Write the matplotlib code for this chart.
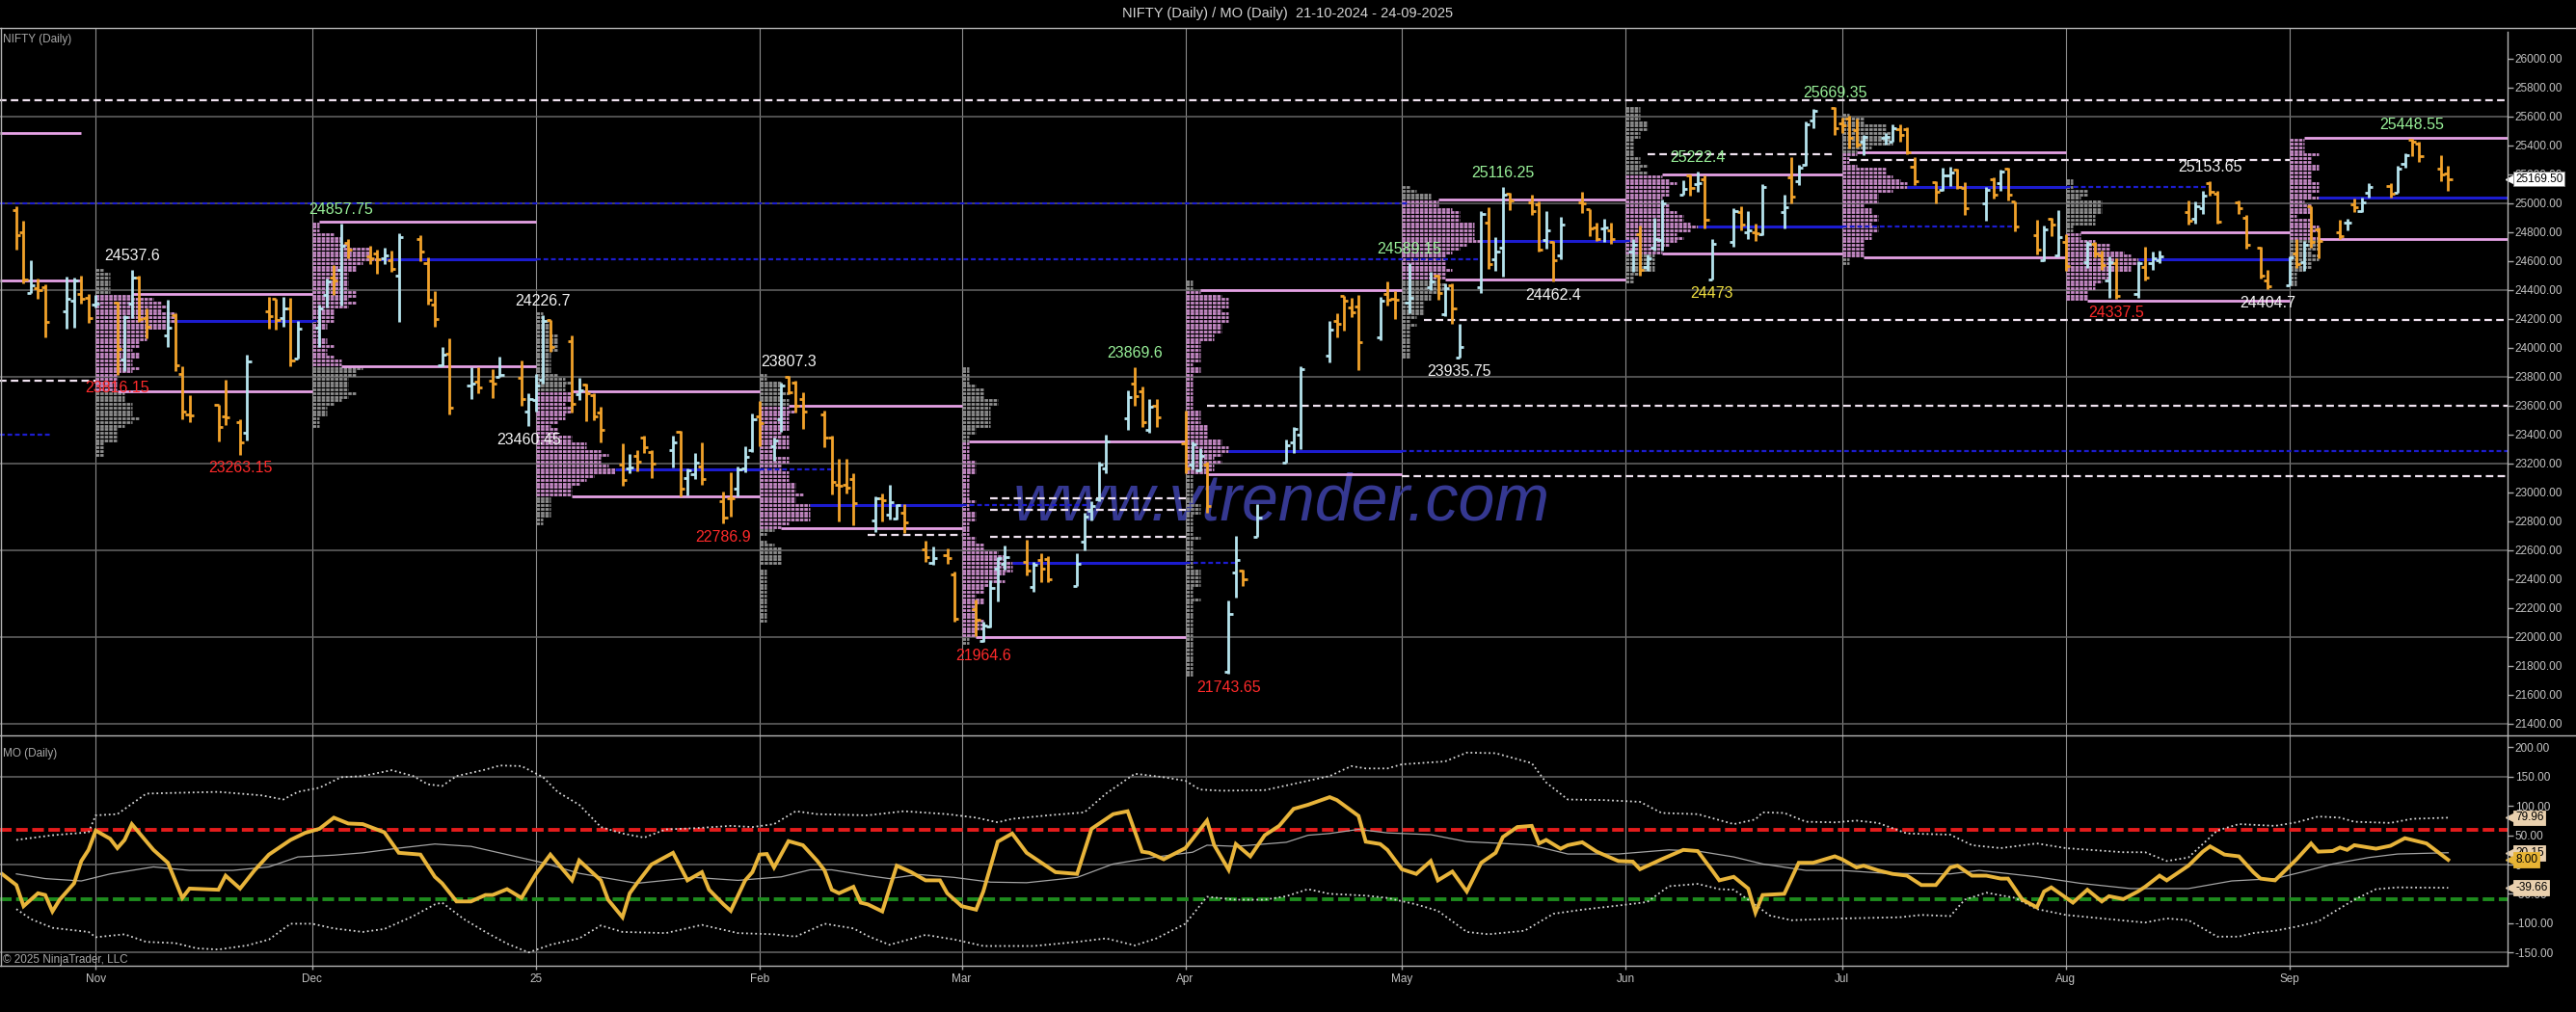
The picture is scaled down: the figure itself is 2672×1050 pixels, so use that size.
import numpy as np
import pandas as pd
import matplotlib
matplotlib.use("Agg")
import matplotlib.pyplot as plt
import matplotlib.dates as mdates
from matplotlib.lines import Line2D
from matplotlib.collections import LineCollection

plt.rcParams["font.family"] = ["Liberation Sans", "DejaVu Sans"]

# ---------------- data: NIFTY daily bars ----------------
bar_dates = [
    "2024-10-21", "2024-10-22", "2024-10-23", "2024-10-24", "2024-10-25", "2024-10-28", "2024-10-29", "2024-10-30", "2024-10-31",
    "2024-11-01", "2024-11-04", "2024-11-05", "2024-11-06", "2024-11-07", "2024-11-08", "2024-11-11", "2024-11-12", "2024-11-13",
    "2024-11-14", "2024-11-18", "2024-11-19", "2024-11-21", "2024-11-22", "2024-11-25", "2024-11-26", "2024-11-27", "2024-11-28", "2024-11-29",
    "2024-12-02", "2024-12-03", "2024-12-04", "2024-12-05", "2024-12-06", "2024-12-09", "2024-12-10", "2024-12-11", "2024-12-12",
    "2024-12-13", "2024-12-16", "2024-12-17", "2024-12-18", "2024-12-19", "2024-12-20", "2024-12-23", "2024-12-24", "2024-12-26",
    "2024-12-27", "2024-12-30", "2024-12-31",
    "2025-01-01", "2025-01-02", "2025-01-03", "2025-01-06", "2025-01-07", "2025-01-08", "2025-01-09", "2025-01-10", "2025-01-13",
    "2025-01-14", "2025-01-15", "2025-01-16", "2025-01-17", "2025-01-20", "2025-01-21", "2025-01-22", "2025-01-23", "2025-01-24",
    "2025-01-27", "2025-01-28", "2025-01-29", "2025-01-30", "2025-01-31",
    "2025-02-01", "2025-02-03", "2025-02-04", "2025-02-05", "2025-02-06", "2025-02-07", "2025-02-10", "2025-02-11", "2025-02-12",
    "2025-02-13", "2025-02-14", "2025-02-17", "2025-02-18", "2025-02-19", "2025-02-20", "2025-02-21", "2025-02-24", "2025-02-25",
    "2025-02-27", "2025-02-28",
    "2025-03-03", "2025-03-04", "2025-03-05", "2025-03-06", "2025-03-07", "2025-03-10", "2025-03-11", "2025-03-12", "2025-03-13",
    "2025-03-17", "2025-03-18", "2025-03-19", "2025-03-20", "2025-03-21", "2025-03-24", "2025-03-25", "2025-03-26", "2025-03-27", "2025-03-28",
    "2025-04-01", "2025-04-02", "2025-04-03", "2025-04-04", "2025-04-07", "2025-04-08", "2025-04-09", "2025-04-11", "2025-04-15",
    "2025-04-16", "2025-04-17", "2025-04-21", "2025-04-22", "2025-04-23", "2025-04-24", "2025-04-25", "2025-04-28", "2025-04-29", "2025-04-30",
    "2025-05-02", "2025-05-05", "2025-05-06", "2025-05-07", "2025-05-08", "2025-05-09", "2025-05-12", "2025-05-13", "2025-05-14",
    "2025-05-15", "2025-05-16", "2025-05-19", "2025-05-20", "2025-05-21", "2025-05-22", "2025-05-23", "2025-05-26", "2025-05-27",
    "2025-05-28", "2025-05-29", "2025-05-30",
    "2025-06-02", "2025-06-03", "2025-06-04", "2025-06-05", "2025-06-06", "2025-06-09", "2025-06-10", "2025-06-11", "2025-06-12",
    "2025-06-13", "2025-06-16", "2025-06-17", "2025-06-18", "2025-06-19", "2025-06-20", "2025-06-23", "2025-06-24", "2025-06-25",
    "2025-06-26", "2025-06-27", "2025-06-30",
    "2025-07-01", "2025-07-02", "2025-07-03", "2025-07-04", "2025-07-07", "2025-07-08", "2025-07-09", "2025-07-10", "2025-07-11",
    "2025-07-14", "2025-07-15", "2025-07-16", "2025-07-17", "2025-07-18", "2025-07-21", "2025-07-22", "2025-07-23", "2025-07-24",
    "2025-07-25", "2025-07-28", "2025-07-29", "2025-07-30", "2025-07-31",
    "2025-08-01", "2025-08-04", "2025-08-05", "2025-08-06", "2025-08-07", "2025-08-08", "2025-08-11", "2025-08-12", "2025-08-13",
    "2025-08-14", "2025-08-18", "2025-08-19", "2025-08-20", "2025-08-21", "2025-08-22", "2025-08-25", "2025-08-26", "2025-08-28", "2025-08-29",
    "2025-09-01", "2025-09-02", "2025-09-03", "2025-09-04", "2025-09-05", "2025-09-08", "2025-09-09", "2025-09-10", "2025-09-11",
    "2025-09-12", "2025-09-15", "2025-09-16", "2025-09-17", "2025-09-18", "2025-09-19", "2025-09-22", "2025-09-23",
]

opens = [
    24956, 24798, 24378, 24412, 24418, 24251, 24329, 24371, 24349,
    24302, 24316, 23917, 24308, 24489, 24207, 24087, 24225, 23822, 23542, 23605, 23529, 23488, 23411, 24253, 24340, 24204, 24274, 23927,
    24140, 24367, 24489, 24539, 24729, 24633, 24652, 24620, 24604, 24498, 24753, 24584, 24297, 23878, 23960, 23738, 23769, 23775, 23801, 23796, 23560,
    23637, 23783, 24196, 24045, 23679, 23746, 23674, 23551, 23195, 23165, 23250, 23377, 23277, 23290, 23421, 23099, 23128, 23183, 22940, 22961, 23026, 23169, 23296,
    23528, 23319, 23509, 23801, 23761, 23649, 23543, 23383, 23050, 23055, 23096, 22809, 22963, 22847, 22821, 22857, 22609, 22516, 22568, 22433,
    22194, 21974, 22073, 22476, 22508, 22522, 22345, 22536, 22541, 22353, 22662, 22874, 22951, 23168, 23515, 23751, 23700, 23433, 23601,
    23341, 23192, 23150, 23190, 21758, 22446, 22460, 22695, 23208, 23345, 23401, 23949, 24186, 24357, 24277, 24289, 24070, 24370, 24343,
    24311, 24419, 24500, 24234, 24431, 23936, 24420, 24864, 24614, 24694, 25064, 25005, 24996, 24745, 24733, 24639, 25005, 24957, 24832, 24826, 24812,
    24669, 24786, 24560, 24691, 24749, 25061, 25196, 25134, 25164, 24473, 24732, 24939, 24803, 24803, 24787, 24939, 25179, 25150, 25268, 25576, 25661,
    25551, 25588, 25505, 25428, 25450, 25427, 25514, 25512, 25255, 25149, 25090, 25196, 25230, 25109, 24999, 25166, 25139, 25243, 25010, 24783, 24609, 24891, 24642,
    24734, 24596, 24720, 24641, 24464, 24586, 24371, 24563, 24586, 24607, 24939, 24892, 24965, 25143, 25064, 25006, 24899, 24695, 24466,
    24432, 24653, 24596, 24980, 24818, 24802, 24864, 24991, 24945, 25074, 25118, 25074, 25276, 25441, 25411, 25238, 25209,
]
highs = [
    24978, 24882, 24604, 24480, 24441, 24493, 24484, 24498, 24372,
    24368, 24317, 24229, 24537.6, 24503, 24276, 24336, 24242, 23873, 23675, 23606, 23780, 23507, 23956, 24351, 24343, 24354, 24345, 24188,
    24301, 24481, 24573, 24857.75, 24751, 24705, 24677, 24691, 24675, 24792, 24781, 24624, 24394, 24004, 24065, 23869, 23867, 23854, 23938, 23916, 23689,
    23822, 24226.7, 24196, 24089, 23795, 23751, 23689, 23596, 23341, 23264, 23293, 23391, 23292, 23391, 23427, 23169, 23270, 23347, 23007, 23138, 23183, 23322, 23546,
    23632, 23381, 23762, 23807.3, 23773, 23694, 23568, 23391, 23235, 23236, 23133, 22974, 22992, 23050, 22923, 22921, 22668, 22625, 22613, 22450,
    22261, 22105, 22394, 22556, 22633, 22676, 22522, 22578, 22558, 22577, 22857, 22940, 23216, 23402, 23708, 23869.6, 23736, 23646, 23649,
    23565, 23350, 23306, 23214, 22254, 22698, 22468, 22923, 23368, 23452, 23872, 24189, 24242, 24359, 24347, 24365, 24355, 24457, 24396,
    24589.15, 24526, 24509, 24449, 24447, 24164, 24944, 24973, 24767, 25116.25, 25070, 25062, 25010, 24946, 24737, 24909, 25079, 24963, 24864, 24893, 24864,
    24754, 24845, 24644, 24900, 25029, 25160, 25199, 25222.4, 25196, 24754, 24967, 24982, 24947, 24863, 25136, 25057, 25317, 25266, 25565, 25654, 25669.35,
    25593, 25608, 25587, 25470, 25489, 25548, 25548, 25525, 25323, 25151, 25245, 25255, 25238, 25144, 25111, 25182, 25233, 25247, 25010, 24889, 24848, 24902, 24956,
    24784, 24737, 24734, 24672, 24635, 24617, 24603, 24703, 24664, 24674, 25022, 25013, 25088, 25153.65, 25085, 25021, 24919, 24702, 24539,
    24636, 24756, 24737, 24980, 24832, 24885, 24891, 25036, 25037, 25139, 25137, 25262, 25346, 25448.55, 25428, 25331, 25262,
]
lows = [
    24679, 24445, 24378, 24341, 24073, 24135, 24140, 24308, 24172,
    24281, 23816.15, 23842, 24204, 24179, 24066, 24004, 23839, 23509, 23484, 23350, 23464, 23263.15, 23359, 24135, 24125, 24145, 23874, 23927,
    24008, 24280, 24366, 24295, 24620, 24580, 24510, 24583, 24527, 24180, 24601, 24303, 24149, 23870, 23537, 23647, 23685, 23653, 23800, 23600, 23460.45,
    23562, 23751, 23976, 23551, 23637, 23496, 23503, 23344, 23047, 23134, 23146, 23272, 23100, 23170, 22976, 22981, 23090, 23050, 22786.9, 22830, 22976, 23139, 23277,
    23319, 23222, 23423, 23680, 23556, 23443, 23316, 22986, 22798, 22993, 22774, 22726, 22801, 22814, 22812, 22720, 22518, 22501, 22508, 22104,
    22004, 21964.6, 22067, 22245, 22464, 22429, 22314, 22378, 22377, 22353, 22599, 22807, 22940, 23132, 23433, 23601, 23451, 23412, 23451,
    23136, 23158, 23145, 22857, 21743.65, 22271, 22353, 22695, 23207, 23273, 23298, 23903, 24073, 24119, 24216, 23847, 24054, 24290, 24198,
    24238, 24400, 24331, 24220, 24164, 23935.75, 24378, 24547, 24535, 24494, 24953, 24917, 24669, 24686, 24462.4, 24614, 24933, 24776, 24737, 24731, 24717,
    24526, 24502, 24530, 24671, 24671, 25057, 25055, 25081, 24825, 24473, 24703, 24813, 24750, 24738, 24783, 24824, 24999, 25125, 25259, 25523, 25473,
    25488, 25378, 25385, 25331, 25407, 25424, 25424, 25340, 25129, 25001, 25088, 25121, 25101, 24918, 24882, 25036, 25085, 25018, 24806, 24646, 24599, 24771, 24636,
    24535, 24554, 24627, 24539, 24344, 24337.5, 24347, 24465, 24539, 24587, 24852, 24858, 24929, 25054, 24859, 24929, 24689, 24481, 24404.7,
    24432, 24554, 24533, 24693, 24621, 24751, 24814, 24941, 24941, 25038, 25038, 25071, 25246, 25329, 25285, 25151, 25084,
]
closes = [
    24781, 24472, 24435, 24399, 24181, 24339, 24467, 24341, 24205,
    24304, 23995, 24213, 24484, 24199, 24148, 24141, 23883, 23559, 23532, 23453, 23518, 23349, 23907, 24221, 24194, 24275, 23914, 24131,
    24276, 24457, 24467, 24708, 24677, 24619, 24610, 24641, 24548, 24768, 24668, 24336, 24198, 23952, 23587, 23753, 23727, 23750, 23813, 23645, 23644,
    23742, 24188, 24004, 23616, 23707, 23688, 23526, 23432, 23086, 23176, 23213, 23311, 23203, 23344, 23025, 23155, 23205, 23092, 22829, 22957, 23163, 23249, 23508,
    23482, 23361, 23739, 23696, 23603, 23560, 23381, 23071, 23045, 23031, 22929, 22959, 22945, 22933, 22913, 22796, 22553, 22547, 22545, 22125,
    22119, 22083, 22337, 22545, 22553, 22460, 22497, 22470, 22397, 22509, 22834, 22907, 23190, 23350, 23658, 23668, 23486, 23592, 23519,
    23165, 23332, 23250, 22904, 22161, 22535, 22399, 22829, 23328, 23437, 23852, 24125, 24167, 24329, 24247, 24039, 24328, 24336, 24334,
    24347, 24461, 24380, 24414, 24273, 24008, 24924, 24578, 24667, 25062, 25019, 24945, 24683, 24813, 24609, 24853, 25001, 24826, 24752, 24833, 24751,
    24716, 24543, 24621, 24751, 25003, 25103, 25104, 25141, 24888, 24719, 24946, 24853, 24812, 24793, 25112, 24972, 25044, 25245, 25549, 25637, 25517,
    25541, 25453, 25405, 25461, 25461, 25523, 25476, 25355, 25150, 25082, 25196, 25212, 25112, 24968, 25091, 25061, 25220, 25062, 24837, 24681, 24821, 24855, 24768,
    24565, 24723, 24650, 24574, 24596, 24363, 24585, 24487, 24619, 24631, 24877, 24980, 25051, 25083, 24870, 24968, 24712, 24501, 24427,
    24625, 24580, 24715, 24734, 24741, 24773, 24869, 24973, 25005, 25114, 25069, 25239, 25330, 25424, 25327, 25202, 25169.5,
]

# swing labels on the price panel
label_dates = ["2024-11-04", "2024-11-06", "2024-11-21", "2024-12-05", "2024-12-31", "2025-01-02", "2025-01-27",
               "2025-02-05", "2025-03-04", "2025-03-25", "2025-04-07", "2025-05-02", "2025-05-09", "2025-05-15",
               "2025-05-22", "2025-06-11", "2025-06-13", "2025-06-30", "2025-08-08", "2025-08-21", "2025-08-29", "2025-09-18"]
label_text = ["23816.15", "24537.6", "23263.15", "24857.75", "23460.45", "24226.7", "22786.9",
              "23807.3", "21964.6", "23869.6", "21743.65", "24589.15", "23935.75", "25116.25",
              "24462.4", "25222.4", "24473", "25669.35", "24337.5", "25153.65", "24404.7", "25448.55"]
label_side = ["L", "H", "L", "H", "L", "H", "L", "H", "L", "H", "L", "H", "L", "H", "L", "H", "L", "H", "L", "H", "L", "H"]
label_kind = ["red", "white", "red", "green", "white", "white", "red", "white", "red", "green", "red", "green",
              "white", "green", "white", "green", "yellow", "green", "red", "white", "white", "green"]

# levels carried in from profiles before the first bar
prior_prices = [25487, 24467, 25000, 23400]
prior_kinds = ["va", "va", "poc", "poc"]
prior_ends = ["2024-10-30", "2024-10-30", "2025-05-02", "2024-10-26"]

# untouched value-area levels (white dashed), start and end dates
naked_prices = [25713, 23773, 24193, 23600, 23115, 22960, 22880, 22693, 22706, 25340, 25302]
naked_starts = ["2024-10-18", "2024-10-18", "2025-05-04", "2025-04-04", "2025-05-01", "2025-03-05", "2025-03-05",
                "2025-03-05", "2025-02-16", "2025-06-04", "2025-07-02"]
naked_ends = ["2025-10-05", "2024-11-01", "2025-10-05", "2025-10-05", "2025-10-05", "2025-04-01", "2025-04-01",
              "2025-04-01", "2025-03-01", "2025-06-30", "2025-09-01"]

month_starts = ["2024-11-01", "2024-12-01", "2025-01-01", "2025-02-01", "2025-03-01", "2025-04-01",
                "2025-05-01", "2025-06-01", "2025-07-01", "2025-08-01", "2025-09-01"]
month_labels = ["Nov", "Dec", "25", "Feb", "Mar", "Apr", "May", "Jun", "Jul", "Aug", "Sep"]

# ---------------- data: MO (Daily) indicator ----------------
mo_dates = [
    "2024-10-19", "2024-10-21", "2024-10-22", "2024-10-24", "2024-10-25", "2024-10-26", "2024-10-27", "2024-10-29", "2024-10-30",
    "2024-10-31", "2024-11-01", "2024-11-03", "2024-11-04", "2024-11-05", "2024-11-06", "2024-11-09", "2024-11-11", "2024-11-13",
    "2024-11-14", "2024-11-18", "2024-11-19", "2024-11-21", "2024-11-23", "2024-11-25", "2024-11-28", "2024-11-30", "2024-12-02",
    "2024-12-04", "2024-12-06", "2024-12-08", "2024-12-11", "2024-12-13", "2024-12-16", "2024-12-18", "2024-12-19", "2024-12-21",
    "2024-12-23", "2024-12-25", "2024-12-26", "2024-12-28", "2024-12-30", "2025-01-01", "2025-01-03", "2025-01-06", "2025-01-07",
    "2025-01-10", "2025-01-11", "2025-01-13", "2025-01-14", "2025-01-15", "2025-01-17", "2025-01-20", "2025-01-22", "2025-01-24",
    "2025-01-25", "2025-01-27", "2025-01-28", "2025-01-30", "2025-01-31", "2025-02-01", "2025-02-02", "2025-02-03", "2025-02-05",
    "2025-02-07", "2025-02-09", "2025-02-10", "2025-02-11", "2025-02-12", "2025-02-14", "2025-02-15", "2025-02-16", "2025-02-18",
    "2025-02-20", "2025-02-22", "2025-02-24", "2025-02-26", "2025-02-27", "2025-03-01", "2025-03-03", "2025-03-04", "2025-03-06",
    "2025-03-08", "2025-03-10", "2025-03-14", "2025-03-17", "2025-03-19", "2025-03-22", "2025-03-24", "2025-03-26", "2025-03-27",
    "2025-03-29", "2025-04-01", "2025-04-04", "2025-04-05", "2025-04-07", "2025-04-08", "2025-04-10", "2025-04-12", "2025-04-14",
    "2025-04-16", "2025-04-18", "2025-04-21", "2025-04-22", "2025-04-25", "2025-04-26", "2025-04-28", "2025-04-29", "2025-05-01",
    "2025-05-03", "2025-05-05", "2025-05-06", "2025-05-08", "2025-05-10", "2025-05-12", "2025-05-14", "2025-05-15", "2025-05-17",
    "2025-05-19", "2025-05-20", "2025-05-21", "2025-05-23", "2025-05-24", "2025-05-26", "2025-05-28", "2025-05-31", "2025-06-02",
    "2025-06-03", "2025-06-06", "2025-06-09", "2025-06-11", "2025-06-13", "2025-06-14", "2025-06-16", "2025-06-18", "2025-06-19",
    "2025-06-20", "2025-06-23", "2025-06-25", "2025-06-27", "2025-06-30", "2025-07-01", "2025-07-03", "2025-07-04", "2025-07-06",
    "2025-07-08", "2025-07-10", "2025-07-12", "2025-07-14", "2025-07-16", "2025-07-17", "2025-07-19", "2025-07-21", "2025-07-23",
    "2025-07-24", "2025-07-26", "2025-07-28", "2025-07-29", "2025-07-30", "2025-08-02", "2025-08-04", "2025-08-06", "2025-08-07",
    "2025-08-09", "2025-08-11", "2025-08-12", "2025-08-14", "2025-08-15", "2025-08-18", "2025-08-20", "2025-08-21", "2025-08-23",
    "2025-08-25", "2025-08-27", "2025-08-28", "2025-08-30", "2025-09-02", "2025-09-04", "2025-09-05", "2025-09-07", "2025-09-08",
    "2025-09-09", "2025-09-10", "2025-09-13", "2025-09-15", "2025-09-17", "2025-09-20", "2025-09-23",
]
mo_values = [
    -16, -35, -71, -49, -52, -80, -60, -32, 6,
    25, 58, 44, 28, 42, 69, 25, 3, -57,
    -41, -43, -19, -41, -10, 17, 42, 54, 61,
    80, 70, 69, 55, 20, 17, -21, -32, -63,
    -63, -52, -52, -42, -57, -16, 17, -27, 7,
    -27, -60, -90, -49, -32, 0, 20, -27, -13,
    -43, -68, -79, -27, -13, 17, 18, -5, 40,
    33, 6, -10, -43, -49, -38, -65, -68, -80,
    -2, -13, -27, -27, -49, -71, -77, -46, 39,
    53, 20, -13, -16, 61, 86, 91, 22, 20,
    9, 28, 75, 33, -9, 35, 14, 50, 66,
    95, 102, 115, 110, 83, 39, 35, 25, -8,
    -16, 6, -27, -12, -46, 3, 20, 47, 64,
    66, 36, 42, 27, 33, 38, 22, 6, 5,
    -8, 9, 25, 23, -10, -27, -21, -41, -82,
    -52, -50, 3, 3, 14, 9, -5, -2, -10,
    -16, -19, -35, -35, -5, -2, -19, -19, -24,
    -24, -60, -73, -46, -39, -65, -43, -63, -54,
    -59, -46, -38, -19, -27, -2, 22, 31, 17,
    14, -13, -24, -27, 9, 36, 22, 23, 29,
    25, 33, 27, 32, 45, 36, 8.00,
]

upper_dates = [
    "2024-10-21", "2024-10-26", "2024-10-31", "2024-11-01", "2024-11-04", "2024-11-08", "2024-11-11", "2024-11-18", "2024-11-24",
    "2024-11-27", "2024-11-29", "2024-12-02", "2024-12-05", "2024-12-08", "2024-12-12", "2024-12-15", "2024-12-17", "2024-12-19",
    "2024-12-21", "2024-12-25", "2024-12-27", "2024-12-30", "2025-01-02", "2025-01-04", "2025-01-07", "2025-01-10", "2025-01-13",
    "2025-01-16", "2025-01-19", "2025-01-23", "2025-01-28", "2025-01-31", "2025-02-03", "2025-02-06", "2025-02-09", "2025-02-16",
    "2025-02-21", "2025-02-27", "2025-03-03", "2025-03-06", "2025-03-08", "2025-03-13", "2025-03-18", "2025-03-21", "2025-03-25",
    "2025-03-29", "2025-04-01", "2025-04-03", "2025-04-06", "2025-04-12", "2025-04-15", "2025-04-21", "2025-04-24", "2025-04-26",
    "2025-04-29", "2025-05-01", "2025-05-07", "2025-05-10", "2025-05-14", "2025-05-19", "2025-05-21", "2025-05-24", "2025-05-29",
    "2025-06-03", "2025-06-06", "2025-06-11", "2025-06-16", "2025-06-19", "2025-06-20", "2025-06-23", "2025-06-26", "2025-06-30",
    "2025-07-03", "2025-07-06", "2025-07-10", "2025-07-16", "2025-07-19", "2025-07-23", "2025-07-28", "2025-08-01", "2025-08-09",
    "2025-08-12", "2025-08-15", "2025-08-18", "2025-08-22", "2025-08-25", "2025-08-30", "2025-09-02", "2025-09-05", "2025-09-08",
    "2025-09-10", "2025-09-15", "2025-09-18", "2025-09-23",
]
upper_values = [
    42, 50, 55, 84, 86, 121, 122, 124, 118,
    111, 124, 131, 149, 151, 161, 151, 137, 134,
    151, 162, 169, 168, 149, 124, 102, 64, 53,
    46, 60, 62, 66, 64, 69, 91, 86, 84,
    91, 86, 80, 72, 78, 84, 89, 121, 155,
    149, 143, 128, 126, 127, 135, 151, 168, 164,
    164, 171, 176, 191, 190, 173, 140, 111, 110,
    107, 88, 86, 69, 77, 89, 88, 73, 72,
    75, 71, 53, 51, 33, 28, 36, 28, 21,
    21, 6, 12, 58, 69, 66, 72, 82, 80,
    73, 71, 78, 79.96,
]

lower_dates = [
    "2024-10-21", "2024-10-23", "2024-10-26", "2024-10-31", "2024-11-01", "2024-11-05", "2024-11-08", "2024-11-12", "2024-11-15",
    "2024-11-18", "2024-11-22", "2024-11-25", "2024-11-28", "2024-12-01", "2024-12-04", "2024-12-08", "2024-12-11", "2024-12-15",
    "2024-12-18", "2024-12-19", "2024-12-22", "2024-12-25", "2024-12-28", "2024-12-31", "2025-01-03", "2025-01-07", "2025-01-10",
    "2025-01-13", "2025-01-19", "2025-01-24", "2025-01-29", "2025-02-03", "2025-02-06", "2025-02-10", "2025-02-14", "2025-02-16",
    "2025-02-19", "2025-02-24", "2025-02-28", "2025-03-04", "2025-03-11", "2025-03-17", "2025-03-21", "2025-03-25", "2025-03-28",
    "2025-04-01", "2025-04-04", "2025-04-08", "2025-04-12", "2025-04-15", "2025-04-18", "2025-04-21", "2025-04-26", "2025-04-29",
    "2025-05-03", "2025-05-06", "2025-05-10", "2025-05-13", "2025-05-18", "2025-05-22", "2025-05-26", "2025-05-31", "2025-06-04",
    "2025-06-07", "2025-06-11", "2025-06-14", "2025-06-16", "2025-06-18", "2025-06-21", "2025-06-24", "2025-07-01", "2025-07-09",
    "2025-07-12", "2025-07-16", "2025-07-18", "2025-07-21", "2025-07-25", "2025-07-28", "2025-08-01", "2025-08-06", "2025-08-12",
    "2025-08-15", "2025-08-18", "2025-08-22", "2025-08-25", "2025-08-27", "2025-08-30", "2025-09-02", "2025-09-05", "2025-09-07",
    "2025-09-10", "2025-09-13", "2025-09-16", "2025-09-23",
]
lower_values = [
    -76, -93, -108, -115, -124, -119, -132, -134, -143,
    -145, -138, -128, -101, -101, -109, -115, -110, -88,
    -68, -65, -93, -115, -135, -150, -137, -126, -104,
    -115, -117, -103, -117, -119, -123, -101, -109, -122,
    -137, -120, -128, -139, -139, -132, -126, -138, -126,
    -101, -55, -60, -60, -54, -42, -50, -53, -57,
    -68, -79, -115, -119, -113, -84, -77, -70, -64,
    -37, -33, -42, -43, -60, -87, -95, -92, -90,
    -86, -88, -60, -48, -57, -76, -86, -92, -99,
    -92, -95, -123, -123, -117, -113, -106, -97, -82,
    -60, -42, -39, -39.66,
]

mid_dates = [
    "2024-10-21", "2024-10-25", "2024-10-30", "2024-11-03", "2024-11-09", "2024-11-14", "2024-11-20", "2024-11-25", "2024-11-29",
    "2024-12-04", "2024-12-08", "2024-12-13", "2024-12-18", "2024-12-23", "2024-12-28", "2025-01-02", "2025-01-07", "2025-01-15",
    "2025-01-23", "2025-01-29", "2025-02-04", "2025-02-08", "2025-02-11", "2025-02-16", "2025-02-19", "2025-02-23", "2025-02-28",
    "2025-03-05", "2025-03-10", "2025-03-17", "2025-03-22", "2025-03-28", "2025-04-02", "2025-04-04", "2025-04-08", "2025-04-15",
    "2025-04-18", "2025-04-21", "2025-04-25", "2025-04-29", "2025-05-05", "2025-05-10", "2025-05-15", "2025-05-19", "2025-05-24",
    "2025-05-31", "2025-06-03", "2025-06-07", "2025-06-11", "2025-06-16", "2025-06-20", "2025-06-26", "2025-07-01", "2025-07-07",
    "2025-07-16", "2025-07-20", "2025-07-28", "2025-08-03", "2025-08-10", "2025-08-18", "2025-08-24", "2025-08-30", "2025-09-03",
    "2025-09-07", "2025-09-12", "2025-09-16", "2025-09-23",
]
mid_values = [
    -16, -24, -28, -16, -4, -10, -10, -4, 13,
    16, 20, 28, 35, 31, 17, 3, -15, -32,
    -22, -27, -21, -9, -9, -19, -24, -17, -22,
    -30, -31, -22, 1, 13, 21, 33, 31, 38,
    50, 53, 60, 54, 51, 39, 36, 33, 18,
    18, 21, 25, 23, 13, 1, -10, -10, -15,
    -16, -10, -21, -32, -41, -41, -28, -24, -12,
    1, 12, 18, 20.15,
]
mo_levels = [60, -60]

# ---------------- layout ----------------
W, H = 2672, 1050
AXIS_PX = 2601          # right price-axis line
NOV1_PX = 99.3          # where 1 Nov 2024 sits
PX_PER_DAY = 7.485


def fx(p):
    return p / W


def fy(p):
    return 1 - p / H


BG = "black"
FRAME = "#b4b4b4"
GRID_H = "#666666"
GRID_V = "#8c8c8c"
TXT = "#c4c4c4"
UP_COL = "#b6e4ee"
DN_COL = "#f2a22a"
VA_COL = "#c78bc7"
OUT_COL = "#8e8e8e"
POC_COL = "#1c1cd0"
VA_LINE = "#e6a2e6"
NAKED_COL = "#f0e2f0"
LABEL_COLS = {"red": "#ff2a2a", "white": "#f4f4f4", "green": "#98f098", "yellow": "#f0e040"}
POC_DASH = (0, (2.2, 1.3))
NAKED_DASH = (0, (3.5, 2.0))

fig = plt.figure(figsize=(W / 100, H / 100), dpi=100, facecolor=BG)
ax = fig.add_axes([0, fy(763), fx(AXIS_PX), fy(29) - fy(763)])
axm = fig.add_axes([0, fy(1002), fx(AXIS_PX), fy(763) - fy(1002)])
for a in (ax, axm):
    a.set_facecolor(BG)
    for s in a.spines.values():
        s.set_visible(False)

t0 = mdates.date2num(pd.Timestamp("2024-11-01"))
x_left = t0 - NOV1_PX / PX_PER_DAY
x_right = t0 + (AXIS_PX - NOV1_PX) / PX_PER_DAY
for a in (ax, axm):
    a.set_xlim(x_left, x_right)
ax.set_ylim(21320, 26213)
axm.set_ylim(-172.7, 220.4)

# grid
ms = mdates.date2num(pd.to_datetime(month_starts))
for m in ms:
    ax.axvline(m, color=GRID_V, lw=0.8, zorder=1)
    axm.axvline(m, color=GRID_V, lw=0.8, zorder=1)
for yv in range(21400, 26001, 600):
    ax.axhline(yv, color=GRID_H, lw=1.1, zorder=1)
for yv in (-150, 0, 150):
    axm.axhline(yv, color=GRID_H, lw=1.1, zorder=1)

# watermark
ax.text(fx(1329), fy(522), "www.vtrender.com", transform=fig.transFigure, ha="center", va="center",
        fontsize=49, style="italic", color="#3a3d9e", alpha=0.92, zorder=2)

# ---------------- price bars ----------------
bx = mdates.date2num(pd.to_datetime(bar_dates))
o = np.array(opens, float)
hi = np.array(highs, float)
lo = np.array(lows, float)
c = np.array(closes, float)
cols = np.where(c >= o, UP_COL, DN_COL)

# ---------------- monthly TPO profiles ----------------
ROW = 25.0
CELL = 1.0
edges = list(ms) + [x_right]
segs, seg_cols = [], []

for i in range(len(ms)):
    m0, m1 = edges[i], edges[i + 1]
    sel = (bx >= m0) & (bx < m1)
    if not sel.any():
        continue
    l_m, h_m = lo[sel], hi[sel]
    base = np.arange(np.floor(l_m.min() / ROW) * ROW, h_m.max() + 0.01, ROW)
    cnt = np.array([np.sum((l_m < b + ROW) & (h_m >= b)) for b in base])
    mid = (l_m.min() + h_m.max()) / 2
    best = np.flatnonzero(cnt == cnt.max())
    poc = best[np.argmin(np.abs(base[best] + ROW / 2 - mid))]
    a_i, b_i, acc = poc, poc, cnt[poc]
    while acc < 0.7 * cnt.sum():
        up_c = cnt[b_i + 1] if b_i + 1 < len(cnt) else -1
        dn_c = cnt[a_i - 1] if a_i - 1 >= 0 else -1
        if up_c >= dn_c:
            b_i += 1
            acc += up_c
        else:
            a_i -= 1
            acc += dn_c
    for k, (p, n) in enumerate(zip(base, cnt)):
        if n:
            segs.append([(m0, p + ROW / 2), (m0 + n * CELL, p + ROW / 2)])
            seg_cols.append(VA_COL if a_i <= k <= b_i else OUT_COL)
    # point of control: solid inside the month, dashed until price comes back to it
    poc_y = base[poc] + ROW / 2
    ax.hlines(poc_y, m0 + cnt[poc] * CELL, m1, colors=POC_COL, lw=2.2, zorder=4)
    hit = np.flatnonzero((bx >= m1) & (lo <= poc_y) & (hi >= poc_y))
    x_to = bx[hit[0]] if hit.size else x_right
    if x_to > m1:
        ax.hlines(poc_y, m1, x_to, colors=POC_COL, lw=1.6, linestyles=POC_DASH, zorder=4)
    for k, yv in ((b_i, base[b_i] + ROW), (a_i, base[a_i])):
        ax.hlines(yv, m0 + cnt[k] * CELL, m1, colors=VA_LINE, lw=2.0, zorder=4)

ax.add_collection(LineCollection(segs, colors=seg_cols, linewidths=2.0,
                                 linestyles=(0, (1.3, 0.35)), zorder=3))

# levels inherited from before the first bar
for p, kind, end in zip(prior_prices, prior_kinds, prior_ends):
    xe = mdates.date2num(pd.Timestamp(end))
    if kind == "va":
        ax.hlines(p, x_left, xe, colors=VA_LINE, lw=2.0, zorder=4)
    else:
        ax.hlines(p, x_left, xe, colors=POC_COL, lw=1.6, linestyles=POC_DASH, zorder=4)

# white dashed naked levels
for p, s, e in zip(naked_prices, naked_starts, naked_ends):
    ax.hlines(p, mdates.date2num(pd.Timestamp(s)), mdates.date2num(pd.Timestamp(e)),
              colors=NAKED_COL, lw=1.6, linestyles=NAKED_DASH, zorder=4)

# OHLC bars on top
ax.vlines(bx, lo, hi, colors=cols, lw=2.0, zorder=6)
ax.hlines(o, bx - 0.55, bx, colors=cols, lw=2.0, zorder=6)
ax.hlines(c, bx, bx + 0.55, colors=cols, lw=2.0, zorder=6)

# swing labels
lx = mdates.date2num(pd.to_datetime(label_dates))
for xv, t, side, kind in zip(lx, label_text, label_side, label_kind):
    yv = float(t)
    ax.annotate(t, (xv, yv), xytext=(0, 5 if side == "H" else -5), textcoords="offset points",
                ha="center", va="bottom" if side == "H" else "top", fontsize=11.5,
                color=LABEL_COLS[kind], zorder=7)

# ---------------- MO panel ----------------
axm.axhline(mo_levels[0], color="#e41c1c", lw=2.8, ls=(0, (3.1, 1.2)), zorder=3)
axm.axhline(mo_levels[1], color="#1e8c1e", lw=2.8, ls=(0, (3.1, 1.2)), zorder=3)
axm.plot(mdates.date2num(pd.to_datetime(upper_dates)), upper_values, color="#d6d6d6", lw=1.3,
         ls=(0, (1, 1.6)), zorder=4)
axm.plot(mdates.date2num(pd.to_datetime(lower_dates)), lower_values, color="#d6d6d6", lw=1.3,
         ls=(0, (1, 1.6)), zorder=4)
axm.plot(mdates.date2num(pd.to_datetime(mid_dates)), mid_values, color="#a4a4a4", lw=0.9, zorder=4)
axm.plot(mdates.date2num(pd.to_datetime(mo_dates)), mo_values, color="#e8b43a", lw=2.8,
         solid_joinstyle="miter", zorder=5)

# ---------------- axes, ticks ----------------
ax.yaxis.tick_right()
pt = np.arange(21400, 26001, 200)
ax.set_yticks(pt)
ax.set_yticklabels([f"{v:.2f}" for v in pt])
ax.tick_params(axis="y", colors="#a8a8a8", labelcolor=TXT, length=4, width=1, pad=1.5, labelsize=8.5)
ax.tick_params(axis="x", bottom=False, labelbottom=False)

axm.yaxis.tick_right()
mt = np.arange(-150, 201, 50)
axm.set_yticks(mt)
axm.set_yticklabels(["0" if v == 0 else f"{v:.2f}" for v in mt])
axm.tick_params(axis="y", colors="#a8a8a8", labelcolor=TXT, length=4, width=1, pad=1.5, labelsize=8.5)
axm.set_xticks(ms)
axm.set_xticklabels(month_labels)
axm.tick_params(axis="x", colors="#a8a8a8", labelcolor=TXT, length=3, width=1, pad=3, labelsize=8.5)


# value tags on the right axis
def tag(a, yv, text, face, edge):
    tr = a.get_yaxis_transform()
    a.plot([1 + 4 / AXIS_PX], [yv], marker="<", ms=8, color=face, transform=tr, clip_on=False, zorder=9)
    a.text(1 + 8 / AXIS_PX, yv, text, transform=tr, ha="left", va="center", fontsize=8.5, color="black",
           bbox=dict(boxstyle="square,pad=0.15", facecolor=face, edgecolor=edge, lw=0.6), clip_on=False, zorder=10)


tag(ax, closes[-1], f"{closes[-1]:.2f}", "#ffffff", "#808080")
tag(axm, upper_values[-1], f"{upper_values[-1]:.2f}", "#e9d0ae", "#e9d0ae")
tag(axm, mid_values[-1], f"{mid_values[-1]:.2f}", "#e9d0ae", "#e9d0ae")
tag(axm, mo_values[-1], f"{mo_values[-1]:.2f}", "#e8b434", "#e8b434")
tag(axm, lower_values[-1], f"{lower_values[-1]:.2f}", "#e9d0ae", "#e9d0ae")

# frame lines
for xs, ys in (([0, 1], [fy(29), fy(29)]), ([fx(1), fx(1)], [fy(29), fy(1002)]),
               ([0, fx(AXIS_PX)], [fy(1002), fy(1002)]), ([fx(AXIS_PX), fx(AXIS_PX)], [fy(33), fy(1002)]),
               ([0, 1], [fy(763), fy(763)])):
    fig.add_artist(Line2D(xs, ys, color=FRAME, lw=1.0))

# texts
fig.text(0.5, fy(14), "NIFTY (Daily) / MO (Daily)  21-10-2024 - 24-09-2025", ha="center", va="center",
         fontsize=10.5, color="#d4d4d4")
fig.text(fx(3), fy(41), "NIFTY (Daily)", ha="left", va="center", fontsize=8.5, color="#a8a8a8")
fig.text(fx(3), fy(782), "MO (Daily)", ha="left", va="center", fontsize=8.5, color="#a8a8a8")
fig.text(fx(3), fy(996), "\u00a9 2025 NinjaTrader, LLC", ha="left", va="center", fontsize=8.5, color="#a8a8a8")

fig.savefig("out.png", dpi=100, facecolor=BG)
plt.close("all")
